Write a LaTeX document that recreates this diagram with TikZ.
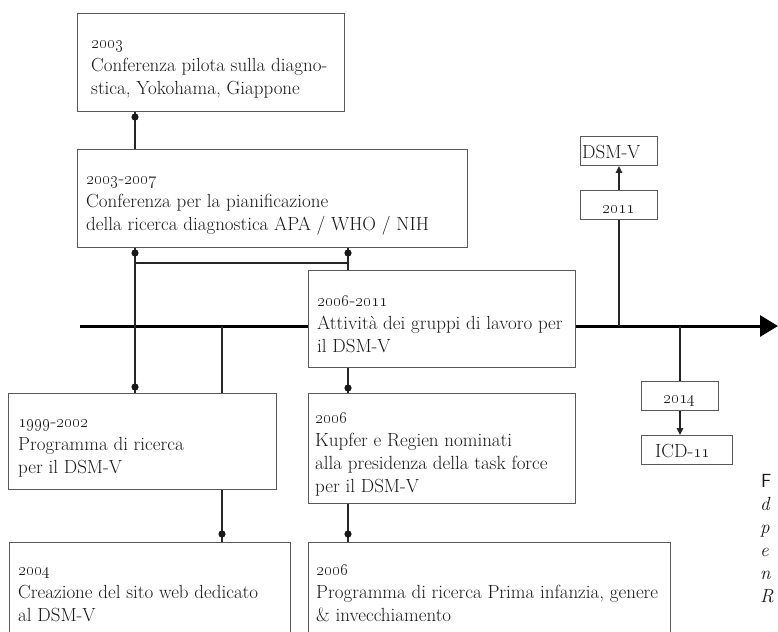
\documentclass[tikz,border=0pt]{standalone}
\usetikzlibrary{arrows.meta}
\begin{document}
\begin{tikzpicture}[x=1pt,y=-1pt,
  box/.style={draw=black!65, line width=1pt, inner sep=0pt, anchor=north west, fill=white},
  txt/.style={inner sep=0pt, anchor=north west, align=left, text=black!90, font=\fontsize{19}{23}\selectfont},
  lbl/.style={inner sep=0pt, text=black!90, font=\fontsize{19}{23}\selectfont},
  yr/.style={inner sep=0pt, text=black!90, font=\fontsize{19}{22}\selectfont},
  conn/.style={line width=1.3pt, draw=black!85},
  tip/.style={-{Triangle[length=7pt,width=6.5pt]}},
  dotc/.style={fill=black!90}]
\fill[white] (0,0) rectangle (778,631);
\useasboundingbox (0,0) rectangle (778,631);
\clip (0,0) rectangle (778,631);

% columns and rows
\coordinate (cA) at (135,0);
\coordinate (cB) at (222,0);
\coordinate (cC) at (348,0);
\coordinate (hrow) at (0,263);
\coordinate (tl0) at (80,326);
\coordinate (tl1) at (778,326);

% timeline (drawn first, boxes cover it)
\draw[line width=3pt, black, -{Triangle[length=18pt,width=21pt]}] (tl0) -- (tl1);

% boxes
\node[box, minimum width=267pt, minimum height=98pt] (A) at (77,13) {};
\node[box, minimum width=390pt, minimum height=98pt] (B) at (77,149) {};
\node[box, minimum width=268pt, minimum height=96pt] (C) at (8,393) {};
\node[box, minimum width=267pt, minimum height=97pt] (D) at (308,270) {};
\node[box, minimum width=267pt, minimum height=110pt] (E) at (308,393) {};
\node[box, minimum width=281pt, minimum height=120pt] (F) at (9,542) {};
\node[box, minimum width=362pt, minimum height=120pt] (G) at (308,542) {};
\node[box, minimum width=77pt, minimum height=29pt] (y2011) at (580,190) {};
\node[box, minimum width=77pt, minimum height=29pt] (dsm) at (580,136) {};
\node[box, minimum width=77pt, minimum height=29pt] (y2014) at (641,381) {};
\node[box, minimum width=91pt, minimum height=29pt] (icd) at (641,435) {};

% texts
\node[txt] (tA) at (91,31.9) {\strut\oldstylenums{2003}\\Conferenza pilota sulla diagno-\\stica, Yokohama, Giappone};
\node[txt] (tB) at (86,167.9) {\strut\oldstylenums{2003}-\oldstylenums{2007}\\Conferenza per la pianificazione\\della ricerca diagnostica APA / WHO / NIH};
\node[txt] (tC) at (18,410.9) {\strut\oldstylenums{1999}-\oldstylenums{2002}\\Programma di ricerca\\per il DSM-V};
\node[txt] (tD) at (317,289.9) {\strut\oldstylenums{2006}-\oldstylenums{2011}\\Attivit\`a dei gruppi di lavoro per\\il DSM-V};
\node[txt] (tE) at (315,406.9) {\strut\oldstylenums{2006}\\Kupfer e Regien nominati\\alla presidenza della task force\\per il DSM-V};
\node[txt] (tF) at (18,558.9) {\strut\oldstylenums{2004}\\Creazione del sito web dedicato\\al DSM-V};
\node[txt] (tG) at (316,558.9) {\strut\oldstylenums{2006}\\Programma di ricerca Prima infanzia, genere\\\& invecchiamento};
\node[yr, anchor=base] (t2011) at (618.5,213) {\oldstylenums{2011}};
\node[yr, anchor=base] (t2014) at (679.5,403) {\oldstylenums{2014}};
\node[lbl, anchor=base west] (tdsm) at (582,159) {DSM-V};
\node[lbl, anchor=base west] (ticd) at (655,457) {ICD-\oldstylenums{11}};

% caption fragments
\node[lbl, anchor=base west, font=\sffamily\fontsize{19}{23}\selectfont] (k1) at (761,487) {F};
\node[lbl, anchor=base west, font=\itshape\fontsize{19}{23}\selectfont] (k2) at (760,510) {d};
\node[lbl, anchor=base west, font=\itshape\fontsize{19}{23}\selectfont] (k3) at (760,533) {p};
\node[lbl, anchor=base west, font=\itshape\fontsize{19}{23}\selectfont] (k4) at (760,556) {e};
\node[lbl, anchor=base west, font=\itshape\fontsize{19}{23}\selectfont] (k5) at (760,579) {n};
\node[lbl, anchor=base west, font=\itshape\fontsize{19}{23}\selectfont] (k6) at (760,602) {R};

% connectors
\draw[conn] (cA |- A.south) -- (cA |- B.north);
\fill[dotc] (135,117) circle (3.6pt);
\draw[conn] (cA |- B.south) -- (cA |- C.north);
\fill[dotc] (135,253) circle (3.6pt);
\fill[dotc] (135,387) circle (3.6pt);
\draw[conn] (cC |- B.south) -- (cC |- D.north);
\fill[dotc] (348,253) circle (3.6pt);
\draw[conn] (cA |- hrow) -- (cC |- hrow);
\draw[conn] (cB |- tl0) -- (cB |- C.north);
\draw[conn] (cB |- C.south) -- (cB |- F.north);
\fill[dotc] (222,534) circle (3.6pt);
\draw[conn] (cC |- D.south) -- (cC |- E.north);
\fill[dotc] (348,388) circle (3.6pt);
\draw[conn] (cC |- E.south) -- (cC |- G.north);
\fill[dotc] (348,534) circle (3.6pt);

\draw[conn] (y2011.south |- tl0) -- (y2011.south);
\draw[conn, tip] (y2011.north) -- (dsm.south);
\draw[conn] (y2014.north |- tl0) -- (y2014.north);
\draw[conn, tip] (y2014.south) -- (y2014.south |- icd.north);
\end{tikzpicture}
\end{document}
